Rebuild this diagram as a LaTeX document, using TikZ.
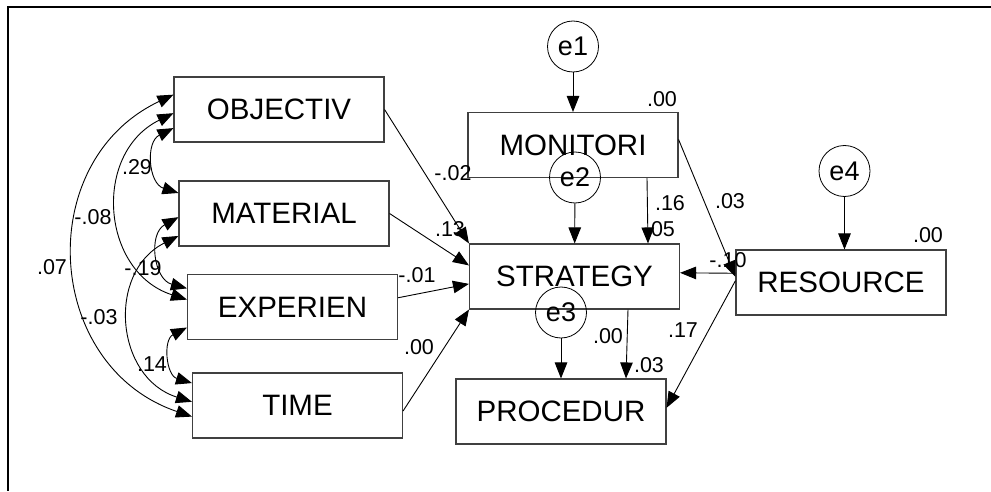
\documentclass[tikz,border=0pt]{standalone}
\usepackage{fontspec}
\setmainfont{Liberation Sans}
\usetikzlibrary{arrows.meta}
\tikzset{
	box/.style = {draw=black!75, line width=1.1pt, minimum width=210pt,
		minimum height=65pt, inner sep=0pt,
		font=\fontsize{29.5}{30}\selectfont},
	err/.style = {circle, draw, line width=0.8pt, minimum size=51pt,
		inner sep=0pt, font=\fontsize{27}{28}\selectfont},
	num/.style = {inner sep=0pt, font=\fontsize{21.5}{22}\selectfont},
	cov/.style = {<->, bend right=68, looseness=1.24},
	>={Triangle[length=16pt,width=12.5pt]}
}

\begin{document}
\begin{tikzpicture}[x=1pt, y=1pt, line width=0.9pt]
	\useasboundingbox (0,0) rectangle (991,491);
	\draw [line width=2.2pt] (991,484) -- (8,484) -- (8,0);

	\node [box] (1) at (279,381.5) {OBJECTIV};
	\node [box] (2) at (284,277.5) {MATERIAL};
	\node [box] (3) at (292.5,184) {EXPERIEN};
	\node [box] (4) at (297.5,85.5) {TIME};
	\node [box] (5) at (573,346) {MONITORI};
	\node [box] (6) at (574.5,214.5) {STRATEGY};
	\node [box] (7) at (841,208.5) {RESOURCE};
	\node [box] (8) at (561,79.5) {PROCEDUR};
	\node [err] (e1) at (573,444.5) {e1};
	\node [err] (e2) at (575,313.5) {e2};
	\node [err] (e3) at (561,178.5) {e3};
	\node [err] (e4) at (844.5,320) {e4};

	% covariances
	\draw [cov] (1.190) to (2.169);
	\draw [cov] (1.182) to (3.176);
	\draw [cov] (1.172) to (4.186);
	\draw [cov] (2.182) to (3.170);
	\draw [cov] (2.192) to (4.178);
	\draw [cov] (3.191) to (4.168);

	% paths
	\draw [ -> ] (1.east) to (6.north west);
	\draw [ -> ] (2.east) to (6.174);
	\draw [ -> ] (3.5) to (6.184);
	\draw [ -> ] (4.-3) to (6.south west);
	\draw [ -> ] (e1) to (5);
	\draw [ -> ] (e2) to (6);
	\draw [ -> ] (e3) to (8);
	\draw [ -> ] (e4) to (e4 |- 7.north);
	\draw [ -> ] ([xshift=74pt]5.south) to ([xshift=73.5pt]6.north);
	\draw [ -> ] ([xshift=53.5pt]6.south) to ([xshift=65pt]8.north);
	\draw [ -> ] (5.3) to (7.177);
	\draw [ -> ] (7.175) to (6.2);
	\draw [ -> ] (7.179) to (8.2);

	% estimates
	\node [num] (l1) at (453,317.5) {-.02};
	\node [num] (l2) at (450,261.5) {.13};
	\node [num] (l3) at (417,215.5) {-.01};
	\node [num] (l4) at (419,143.5) {.00};
	\node [num] (l5) at (137,323.5) {.29};
	\node [num] (l6) at (93,273.5) {-.08};
	\node [num] (l7) at (52,223.5) {.07};
	\node [num] (l8) at (143,223) {-.19};
	\node [num] (l9) at (99,174) {-.03};
	\node [num] (l10) at (152,127) {.14};
	\node [num] (l11) at (662,392) {.00};
	\node [num] (l12) at (670,288) {.16};
	\node [num] (l13) at (660,261.5) {.05};
	\node [num] (l14) at (730,290) {.03};
	\node [num] (l15) at (928,256) {.00};
	\node [num] (l16) at (728,231) {-.10};
	\node [num] (l17) at (608,155) {.00};
	\node [num] (l18) at (649,126) {.03};
	\node [num] (l19) at (683,161) {.17};
\end{tikzpicture}
\end{document}
